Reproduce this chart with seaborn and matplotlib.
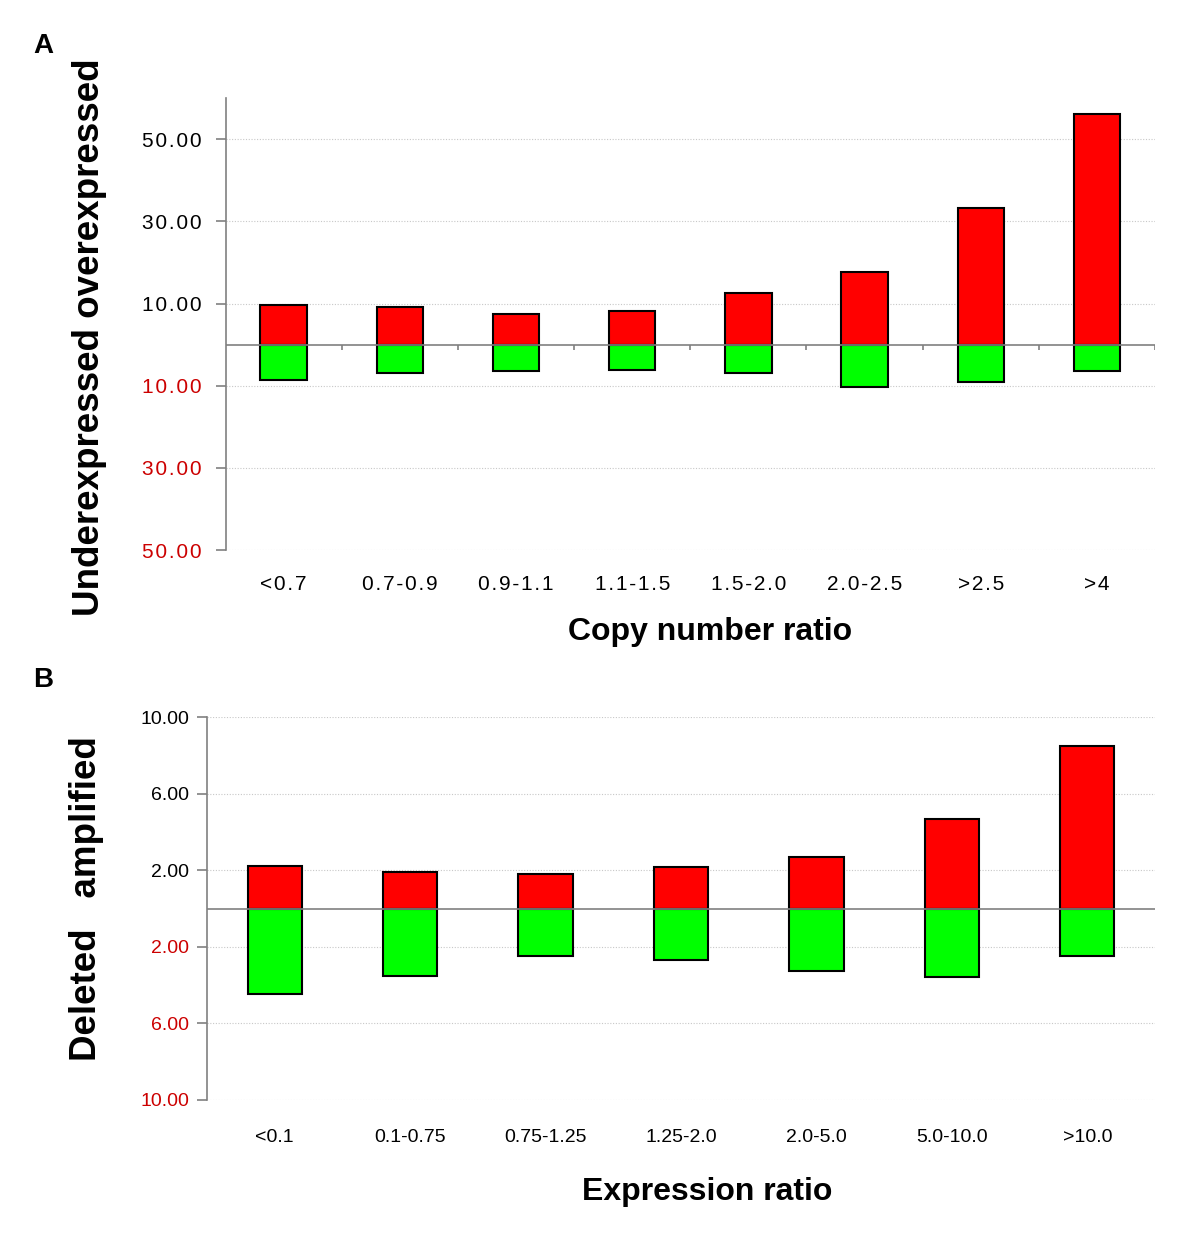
import numpy as np
import pandas as pd
import matplotlib
matplotlib.use("Agg")
import matplotlib.pyplot as plt
import seaborn as sns

# Panel A: copy number ratio bins
copy_bins = ["<0.7", "0.7-0.9", "0.9-1.1", "1.1-1.5", "1.5-2.0", "2.0-2.5", ">2.5", ">4"]
copy_over = [9.7, 9.2, 7.5, 8.2, 12.6, 17.7, 33.2, 56.2]
copy_under = [8.5, 7.0, 6.5, 6.1, 7.0, 10.4, 9.2, 6.5]

# Panel B: expression ratio bins
expr_bins = ["<0.1", "0.1-0.75", "0.75-1.25", "1.25-2.0", "2.0-5.0", "5.0-10.0", ">10.0"]
expr_amp = [2.2, 1.9, 1.8, 2.15, 2.7, 4.7, 8.5]
expr_del = [4.45, 3.5, 2.5, 2.7, 3.25, 3.6, 2.5]

ticks_a = [50, 30, 10, -10, -30, -50]
ticks_b = [10, 6, 2, -2, -6, -10]

sns.set_theme(style="white")
plt.rcParams["font.family"] = ["Liberation Sans", "DejaVu Sans"]
plt.rcParams["text.color"] = "black"
plt.rcParams["axes.labelcolor"] = "black"
plt.rcParams["xtick.color"] = "black"
plt.rcParams["ytick.color"] = "black"

RED = "#ff0000"
GREEN = "#00ff00"
TICK_RED = "#cc0000"
GRAY = "#808080"


def spaced(s):
    # the original tick labels in panel A are letter-spaced
    return "\u200a".join(s)


def draw_panel(ax, cats, up, down, ticks, ylim, ylabel, xlabel, letter_space,
               tick_size, xtick_size, boundary_ticks, ypad, xpad):
    df = pd.DataFrame({"cat": cats, "up": up, "down": [-v for v in down]})
    sns.barplot(data=df, x="cat", y="up", color=RED, saturation=1, width=0.4,
                edgecolor="black", linewidth=1.5, ax=ax, zorder=3)
    sns.barplot(data=df, x="cat", y="down", color=GREEN, saturation=1, width=0.4,
                edgecolor="black", linewidth=1.5, ax=ax, zorder=3)
    n = len(cats)
    ax.set_xlim(-0.5, n - 0.5)
    ax.set_ylim(*ylim)

    # dotted grid at tick positions
    for t in ticks:
        ax.axhline(t, color="#c8c8c8", lw=0.8, ls=(0, (1, 1.5)), zorder=1)
    ax.axhline(0, color=GRAY, lw=1.2, zorder=4)
    if boundary_ticks:
        span = ylim[1] - ylim[0]
        ax.vlines(np.arange(n) + 0.5, -span * 0.011, 0, color=GRAY, lw=1.2, zorder=4)

    sns.despine(ax=ax, top=True, right=True, bottom=True)
    ax.spines["left"].set_color(GRAY)
    ax.spines["left"].set_linewidth(1.2)

    ax.set_yticks(ticks)
    labels = [f"{abs(t):.2f}" for t in ticks]
    if letter_space:
        labels = [spaced(l) for l in labels]
    ax.set_yticklabels(labels, fontsize=tick_size)
    for t, lab in zip(ticks, ax.get_yticklabels()):
        lab.set_color("black" if t > 0 else TICK_RED)
    ax.tick_params(axis="y", left=True, length=7, width=1.2, color=GRAY, pad=ypad)

    xl = [spaced(c) for c in cats] if letter_space else cats
    ax.set_xticks(range(n))
    ax.set_xticklabels(xl, fontsize=xtick_size)
    ax.tick_params(axis="x", bottom=False, pad=xpad)

    ax.set_xlabel(xlabel, fontsize=23, fontweight="bold")
    ax.set_ylabel(ylabel, fontsize=26.5, fontweight="bold")


fig = plt.figure(figsize=(12, 12.38), dpi=100)
ax_a = fig.add_axes([0.188, 0.5557, 0.7745, 0.3651])
ax_b = fig.add_axes([0.1725, 0.1115, 0.79, 0.3093])

draw_panel(ax_a, copy_bins, copy_over, copy_under, ticks_a, (-50, 60),
           "Underexpressed overexpressed", "Copy number ratio",
           True, 15, 15, True, 10, 12)
draw_panel(ax_b, expr_bins, expr_amp, expr_del, ticks_b, (-10, 10),
           "Deleted   amplified", "Expression ratio",
           False, 14, 14, False, 6, 15)

ax_a.yaxis.set_label_coords(-0.128, 0.47)
ax_b.yaxis.set_label_coords(-0.109, 0.527)
ax_a.xaxis.set_label_coords(0.521, -0.149)
ax_b.xaxis.set_label_coords(0.528, -0.201)

fig.text(0.028, 0.963, "A", fontsize=20, fontweight="bold", va="center")
fig.text(0.028, 0.451, "B", fontsize=20, fontweight="bold", va="center")

fig.savefig("out.png", dpi=100, facecolor="white")
